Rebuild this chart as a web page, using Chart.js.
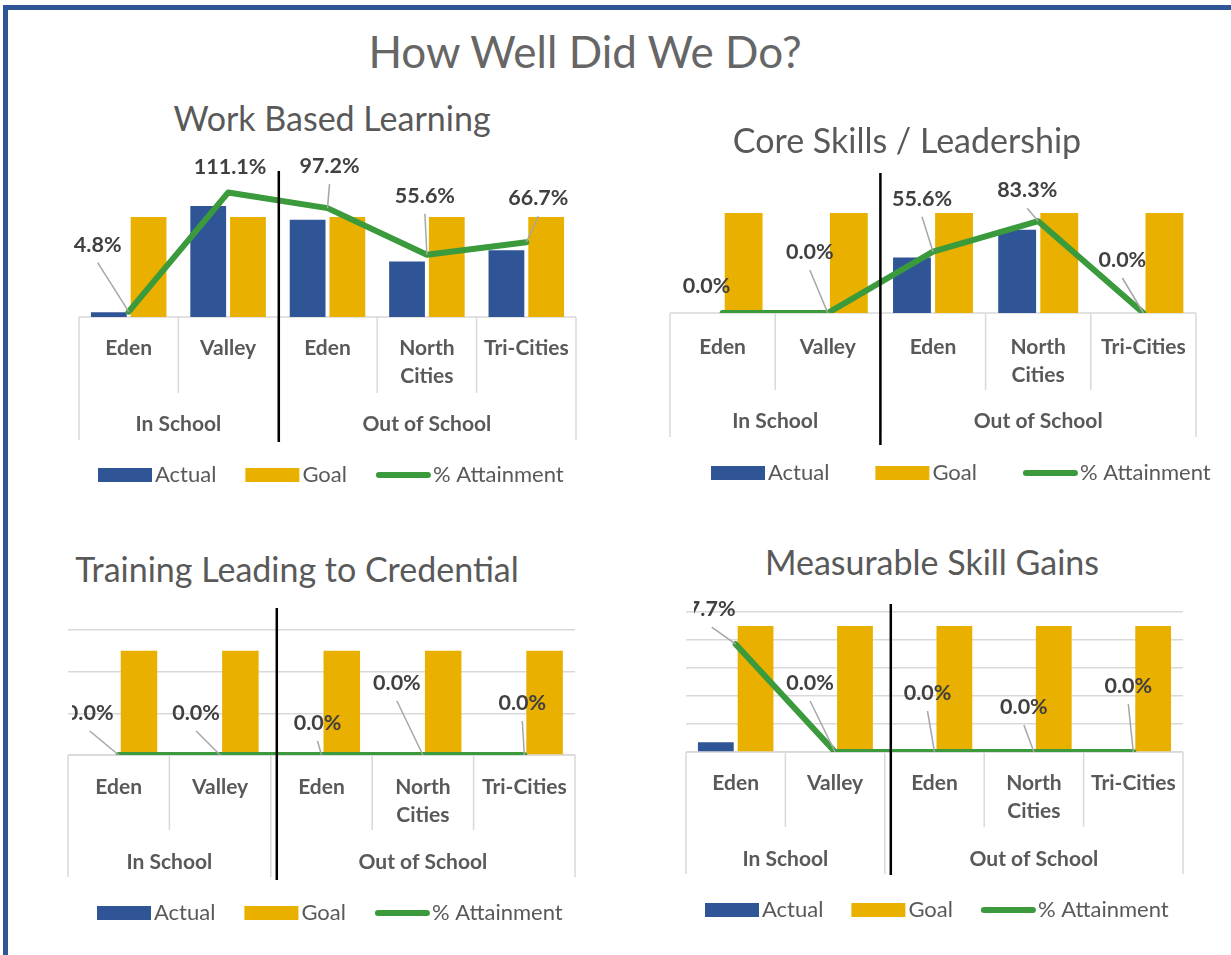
<!DOCTYPE html>
<html>
<head>
<meta charset="utf-8">
<script src="https://cdn.jsdelivr.net/npm/chart.js@4.4.1/dist/chart.umd.min.js"></script>
<style>
  html, body { margin: 0; padding: 0; background: #fff; }
  body { width: 1231px; height: 955px; position: relative; overflow: hidden; font-family: Lato, 'Open Sans', sans-serif; }
  .frame { position: absolute; left: 3px; top: 5px; right: -10px; bottom: -10px; border-left: 5px solid #2f5597; border-top: 5px solid #2f5597; z-index: 5; pointer-events: none; }
  .title { position: absolute; white-space: nowrap; color: #595959; transform: translate(-50%, -50%); line-height: 1; z-index: 2; font-size: 34px; }
  #main-title { left: 585px; top: 51px; font-size: 44px; color: #666; }
  canvas { position: absolute; }
</style>
</head>
<body>
<div class="frame"></div>
<div id="main-title" class="title">How Well Did We Do?</div>

<script>
// ── Data ────────────────────────────────────────────────────────────────────
const categories = ['Eden', 'Valley', 'Eden', ['North', 'Cities'], 'Tri-Cities'];
const groupNames = ['In School', 'Out of School'];
const groupSpans = [2, 3];
const seriesNames = ['Actual', 'Goal', '% Attainment'];

// Work Based Learning
const wblActual = [4.8, 111.1, 97.2, 55.6, 66.7];
const wblGoal   = [100, 100, 100, 100, 100];
const wblPct    = [4.8, 111.1, 97.2, 55.6, 66.7];

// Core Skills / Leadership
const coreActual = [0, 0, 55.6, 83.3, 0];
const coreGoal   = [100, 100, 100, 100, 100];
const corePct    = [0, 0, 55.6, 83.3, 0];

// Training Leading to Credential
const tlcActual = [0, 0, 0, 0, 0];
const tlcGoal   = [5, 5, 5, 5, 5];
const tlcPct    = [0, 0, 0, 0, 0];

// Measurable Skill Gains
const msgActual = [0.7, 0, 0, 0, 0];
const msgGoal   = [9, 9, 9, 9, 9];
const msgPct    = [7.7, 0, 0, 0, 0];

// ── Look ────────────────────────────────────────────────────────────────────
const COLORS = {
  actual: '#2f5597', goal: '#e9b000', line: '#3a9a3c',
  text: '#595959', label: '#404040', rule: '#d9d9d9', leader: '#a6a6a6'
};
const FONT = 'Lato, "Open Sans", sans-serif';

// Page-coordinate layout of each panel (canvas box x,y,w,h and plot area l,t,r,b)
const panels = [
  { id: 'wbl', title: 'Work Based Learning', titleAt: [332, 118],
    actual: wblActual, goal: wblGoal, pct: wblPct,
    box: [0, 140, 615, 370], area: [79, 177, 576, 317], yMax: 140, yStep: 20, y1Max: 125, grid: false,
    divider: [1, 171, 442], rows: [31, 107, 76, 123], legendAt: [98, 475], legendGap: 29, clipLeft: 0,
    labelDx: [-31, 2, 2, -2, 12], labelDy: [-67, -26, -42, -59, -44] },
  { id: 'core', title: 'Core Skills / Leadership', titleAt: [907, 140],
    actual: coreActual, goal: coreGoal, pct: corePct,
    box: [615, 140, 616, 370], area: [670, 173, 1196, 313], yMax: 140, yStep: 20, y1Max: 127, grid: false,
    divider: [0, 173, 445], rows: [34, 108, 77, 124], legendAt: [711, 473], legendGap: 46, clipLeft: 0,
    labelDx: [-16, -18, -11, -11, -21], labelDy: [-27, -61, -53, -31, -53] },
  { id: 'tlc', title: 'Training Leading to Credential', titleAt: [297, 569],
    actual: tlcActual, goal: tlcGoal, pct: tlcPct,
    box: [0, 590, 615, 365], area: [68, 630, 575, 755], yMax: 6, yStep: 2, y1Max: 125, grid: true,
    divider: [6, 608, 880], rows: [32, 107, 75, 122], legendAt: [97, 913], legendGap: 29, clipLeft: 72,
    labelDx: [-29, -24, -4, -26, -2], labelDy: [-42, -42, -32, -72, -52] },
  { id: 'msg', title: 'Measurable Skill Gains', titleAt: [932, 562],
    actual: msgActual, goal: msgGoal, pct: msgPct,
    box: [615, 585, 616, 370], area: [686, 612, 1183, 752], yMax: 10, yStep: 2, y1Max: 10, grid: true,
    divider: [6, 604, 875], rows: [31, 107, 75, 122], legendAt: [705, 910], legendGap: 28, clipLeft: 694,
    labelDx: [-24, -25, -7, -10, -5], labelDy: [-35, -69, -59, -45, -66] }
];

// ── Plugin: multi-level category axis, divider, data labels, legend ────────
const panelDecor = {
  id: 'panelDecor',
  beforeDatasetsDraw(chart) {
    const { ctx, chartArea: a } = chart;
    ctx.save();
    ctx.strokeStyle = COLORS.rule;
    ctx.lineWidth = 1.5;
    ctx.beginPath();
    ctx.moveTo(a.left, a.bottom);
    ctx.lineTo(a.right, a.bottom);
    ctx.stroke();
    ctx.restore();
  },
  afterDraw(chart, args, o) {
    const { ctx, chartArea: a, scales: { x } } = chart;
    const ox = o.box[0], oy = o.box[1];
    const step = x.getPixelForValue(1) - x.getPixelForValue(0);
    const edge = i => x.getPixelForValue(i) - step / 2;
    const [catDy, groupDy, catRowH, groupRowH] = o.rows;
    const groupEdges = [0];
    groupSpans.forEach(s => groupEdges.push(groupEdges[groupEdges.length - 1] + s));

    ctx.save();

    // category / group separators
    ctx.strokeStyle = COLORS.rule;
    ctx.lineWidth = 1.5;
    for (let i = 0; i <= categories.length; i++) {
      const px = edge(i);
      const h = groupEdges.includes(i) ? groupRowH : catRowH;
      ctx.beginPath();
      ctx.moveTo(px, a.bottom);
      ctx.lineTo(px, a.bottom + h);
      ctx.stroke();
    }

    // category and group labels
    ctx.fillStyle = COLORS.text;
    ctx.font = 'bold 21px ' + FONT;
    ctx.textAlign = 'center';
    ctx.textBaseline = 'middle';
    categories.forEach((c, i) => {
      [].concat(c).forEach((line, k) => {
        ctx.fillText(line, x.getPixelForValue(i), a.bottom + catDy + k * 28);
      });
    });
    groupNames.forEach((g, k) => {
      const mid = (edge(groupEdges[k]) + edge(groupEdges[k + 1])) / 2;
      ctx.fillText(g, mid, a.bottom + groupDy);
    });

    // black divider between the two groups
    const [dOff, dTop, dBot] = o.divider;
    const dx = edge(groupEdges[1]) + dOff;
    ctx.strokeStyle = '#000';
    ctx.lineWidth = 2.5;
    ctx.beginPath();
    ctx.moveTo(dx, dTop - oy);
    ctx.lineTo(dx, dBot - oy);
    ctx.stroke();

    // % attainment labels with leader lines
    const lineIdx = chart.data.datasets.findIndex(d => d.type === 'line');
    const values = chart.data.datasets[lineIdx].data;
    const pts = chart.getDatasetMeta(lineIdx).data;
    ctx.save();
    if (o.clipLeft) {
      ctx.beginPath();
      ctx.rect(o.clipLeft - ox, 0, chart.width, chart.height);
      ctx.clip();
    }
    pts.forEach((pt, i) => {
      const lx = pt.x + o.labelDx[i];
      const ly = pt.y + o.labelDy[i];
      if (o.labelDy[i] < -28) {
        ctx.strokeStyle = COLORS.leader;
        ctx.lineWidth = 1.5;
        ctx.beginPath();
        ctx.moveTo(lx, ly + 18);
        ctx.lineTo(pt.x, pt.y);
        ctx.stroke();
      }
      ctx.fillStyle = COLORS.label;
      ctx.font = 'bold 21.5px ' + FONT;
      ctx.fillText(values[i].toFixed(1) + '%', lx, ly);
    });
    ctx.restore();

    // legend
    let lx = o.legendAt[0] - ox;
    const ly = o.legendAt[1] - oy;
    ctx.font = '22px ' + FONT;
    ctx.textAlign = 'left';
    ctx.textBaseline = 'middle';
    chart.data.datasets.forEach(ds => {
      if (ds.type === 'line') {
        ctx.strokeStyle = ds.borderColor;
        ctx.lineWidth = 6;
        ctx.lineCap = 'round';
        ctx.beginPath();
        ctx.moveTo(lx + 3, ly);
        ctx.lineTo(lx + 52, ly);
        ctx.stroke();
      } else {
        ctx.fillStyle = ds.backgroundColor;
        ctx.fillRect(lx, ly - 7, 54, 14);
      }
      lx += 57;
      ctx.fillStyle = COLORS.text;
      ctx.fillText(ds.label, lx, ly);
      lx += ctx.measureText(ds.label).width + o.legendGap;
    });

    ctx.restore();
  }
};

// ── Build the four panels ───────────────────────────────────────────────────
panels.forEach(p => {
  const [bx, by, bw, bh] = p.box;
  const [al, at, ar, ab] = p.area;

  const t = document.createElement('div');
  t.className = 'title';
  t.textContent = p.title;
  t.style.left = p.titleAt[0] + 'px';
  t.style.top = p.titleAt[1] + 'px';
  document.body.appendChild(t);

  const cv = document.createElement('canvas');
  cv.id = 'chart-' + p.id;
  cv.width = bw;
  cv.height = bh;
  cv.style.left = bx + 'px';
  cv.style.top = by + 'px';
  document.body.appendChild(cv);

  new Chart(cv.getContext('2d'), {
    type: 'bar',
    data: {
      labels: categories,
      datasets: [
        { type: 'bar', label: seriesNames[0], data: p.actual, backgroundColor: COLORS.actual,
          yAxisID: 'y', order: 2, barPercentage: 0.9, categoryPercentage: 0.8 },
        { type: 'bar', label: seriesNames[1], data: p.goal, backgroundColor: COLORS.goal,
          yAxisID: 'y', order: 3, barPercentage: 0.9, categoryPercentage: 0.8 },
        { type: 'line', label: seriesNames[2], data: p.pct, borderColor: COLORS.line,
          backgroundColor: COLORS.line, borderWidth: 6, pointRadius: 0, tension: 0,
          borderCapStyle: 'round', borderJoinStyle: 'round', yAxisID: 'y1', order: 1 }
      ]
    },
    options: {
      responsive: false,
      animation: false,
      events: [],
      layout: { padding: { left: al - bx, top: at - by, right: bx + bw - ar, bottom: by + bh - ab } },
      plugins: {
        legend: { display: false },
        tooltip: { enabled: false },
        panelDecor: p
      },
      scales: {
        x: { display: false, offset: true },
        y: {
          display: p.grid, min: 0, max: p.yMax,
          ticks: { display: false, stepSize: p.yStep },
          border: { display: false },
          grid: { color: COLORS.rule, lineWidth: 1.5, drawTicks: false }
        },
        y1: { display: false, min: 0, max: p.y1Max, position: 'right' }
      }
    },
    plugins: [panelDecor]
  });
});
</script>
</body>
</html>
